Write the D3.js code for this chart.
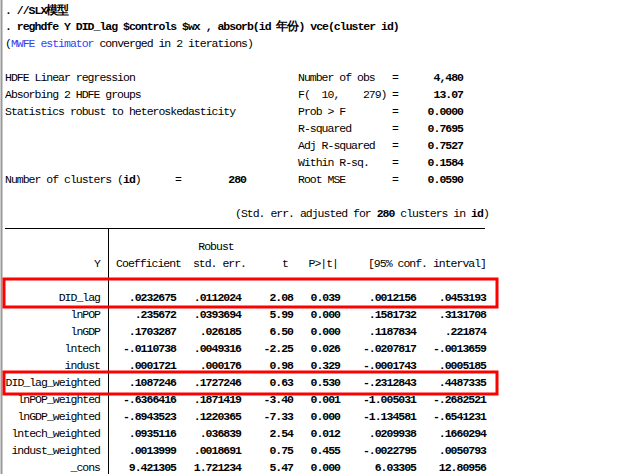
<!DOCTYPE html><html><head><meta charset="utf-8"><script src="https://cdn.jsdelivr.net/npm/d3@7"></script>
<style>body{margin:0;background:#fff}text{font-family:"Liberation Mono","DejaVu Sans Mono",monospace;font-size:11.5px;letter-spacing:-1px;fill:#000;white-space:pre}.b{font-weight:bold}</style></head><body>
<script>
const vars=["DID_lag","lnPOP","lnGDP","lntech","indust","DID_lag_weighted","lnPOP_weighted","lnGDP_weighted","lntech_weighted","indust_weighted","_cons"];
const coef=[".0232675",".235672",".1703287","-.0110738",".0001721",".1087246","-.6366416","-.8943523",".0935116",".0013999","9.421305"];
const se=[".0112024",".0393694",".026185",".0049316",".000176",".1727246",".1871419",".1220365",".036839",".0018691","1.721234"];
const tv=["2.08","5.99","6.50","-2.25","0.98","0.63","-3.40","-7.33","2.54","0.75","5.47"];
const pv=["0.039","0.000","0.000","0.026","0.329","0.530","0.001","0.000","0.012","0.455","0.000"];
const lo=[".0012156",".1581732",".1187834","-.0207817","-.0001743","-.2312843","-1.005031","-1.134581",".0209938","-.0022795","6.03305"];
const hi=[".0453193",".3131708",".221874","-.0013659",".0005185",".4487335","-.2682521","-.6541231",".1660294",".0050793","12.80956"];
const statLabels=["Number of obs","F(  10,    279)","Prob > F","R-squared","Adj R-squared","Within R-sq.","Root MSE"];
const statValues=["4,480","13.07","0.0000","0.7695","0.7527","0.1584","0.0590"];
const leftLines=["HDFE Linear regression","Absorbing 2 HDFE groups","Statistics robust to heteroskedasticity"];

const svg=d3.select("body").append("svg").attr("width",624).attr("height",474);
svg.append("line").attr("x1",1.5).attr("x2",1.5).attr("y1",0).attr("y2",474).attr("stroke","#999").attr("stroke-width",2);
const T=(x,y,s,cls,anchor)=>svg.append("text").attr("x",x+(anchor==="end"?1:0)).attr("y",y).attr("class",cls||null).attr("text-anchor",anchor||"start").text(s);
T(5,14,". //SLX模型","b");
T(5,30,". reghdfe Y DID_lag $controls $wx , absorb(id 年份) vce(cluster id)","b");
const m=T(5,47,"(");m.append("tspan").style("fill","#3344ee").text("MWFE estimator");m.append("tspan").text(" converged in 2 iterations)");
const y0=81,dy=17;
const ys=d3.scaleLinear().domain([0,1]).range([y0,y0+dy]);
leftLines.forEach((s,i)=>T(5,ys(i),s));
statLabels.forEach((s,i)=>{T(298,ys(i),s);T(395,ys(i),"=","","middle");T(462,ys(i),statValues[i],"b","end");});
const nc=T(5,ys(6),"Number of clusters (");nc.append("tspan").attr("class","b").text("id");nc.append("tspan").text(")");
T(178,ys(6),"=","","middle");T(245,ys(6),"280","b","end");
const se2=T(235,ys(8),"(Std. err. adjusted for ");se2.append("tspan").attr("class","b").text("280");se2.append("tspan").text(" clusters in ");se2.append("tspan").attr("class","b").text("id");se2.append("tspan").text(")");
svg.append("line").attr("x1",5).attr("x2",485).attr("y1",228.5).attr("y2",228.5).attr("stroke","#000");
svg.append("line").attr("x1",108.5).attr("x2",108.5).attr("y1",228).attr("y2",474).attr("stroke","#000");
T(216,250,"Robust","","middle");
const hy=267;
[["Y",99],["Coefficient",180],["std. err.",245],["t",287],["P>|t|",337],["[95% conf. interval]",485]].forEach(h=>T(h[1],hy,h[0],"","end"));
const ry=d3.scaleLinear().domain([0,1]).range([301,318]);
const cols=[[coef,175],[se,240],[tv,292],[pv,339],[lo,415],[hi,485]];
vars.forEach((v,i)=>{T(99,ry(i),v,"","end");cols.forEach(c=>T(c[1],ry(i),c[0][i],"b","end"));});
[[279,307],[372,394]].forEach(b=>svg.append("rect").attr("x",4).attr("y",b[0]).attr("width",493).attr("height",b[1]-b[0]).attr("fill","none").attr("stroke","#f00").attr("stroke-width",3));
</script></body></html>
